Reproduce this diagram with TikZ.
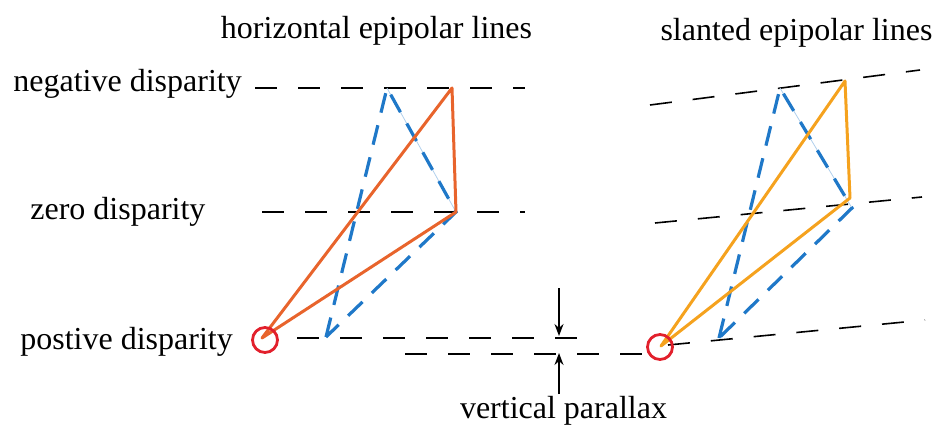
\documentclass[tikz,border=0pt]{standalone}
\usepackage{fontspec}
\setmainfont{Liberation Serif}
\usetikzlibrary{arrows.meta}
\definecolor{lorange}{HTML}{E8642C}
\definecolor{rorange}{HTML}{F5A21E}
\definecolor{epiblue}{HTML}{1F78C8}
\definecolor{camred}{HTML}{E2202C}
\tikzset{
  epiline/.style={black, line width=0.8pt, dash pattern=on 11pt off 10.5pt},
  rayblue/.style={epiblue, line width=1.6pt, dash pattern=on 10pt off 6.5pt},
  camera/.style={circle, draw=camred, line width=1.4pt, minimum size=12.5pt, inner sep=0pt},
  lbl/.style={font=\fontsize{16}{19}\selectfont, inner sep=0pt}
}
\begin{document}
\begin{tikzpicture}[>={Stealth[length=6pt,width=4.5pt]}, x=0.5pt, y=-0.5pt]
			\useasboundingbox (0,0) rectangle (933,428);

			% Titel
			\node[lbl, anchor=base] (thor) at (376.5,39) {horizontal epipolar lines};
			\node[lbl, anchor=base] (tsla) at (796.5,40) {slanted epipolar lines};
			\node[lbl, anchor=base west] (tneg) at (13,91) {negative disparity};
			\node[lbl, anchor=base west] (tzero) at (30,219) {zero disparity};
			\node[lbl, anchor=base west] (tpos) at (20,349) {postive disparity};
			\node[lbl, anchor=base] (tvp) at (563.5,418) {vertical parallax};

			% horizontale Epipolarlinien
			\draw[epiline] (255,88) -- (525,88);
			\draw[epiline] (262,212) -- (525,212);
			\draw[epiline] (297,338) -- (590,338);
			\draw[epiline] (405,354) -- (645,354);

			% schraege Epipolarlinien
			\draw[epiline] (650,105) -- (920,70);
			\draw[epiline] (655,223) -- (922,197);
			\draw[epiline] (668,345) -- (925,320);

			% Eckpunkte links
			\coordinate (lB) at (262,338);
			\coordinate (lT) at (452,88);
			\coordinate (lM) at (456,212);
			\coordinate (lbT) at (387,88);
			\coordinate (lbB) at (326,337);

			% Eckpunkte rechts
			\coordinate (rB) at (661,346);
			\coordinate (rT) at (845,81);
			\coordinate (rM) at (850,198);
			\coordinate (rbT) at (780,88);
			\coordinate (rbR) at (852,208);
			\coordinate (rbB) at (719,338);

			% blaue Dreiecke
			\draw[epiblue!35, line width=0.4pt] (lbT) -- (lM);
			\draw[rayblue] (lbB) -- (lbT) -- (lM) -- cycle;
			\draw[epiblue!35, line width=0.4pt] (rbT) -- (rbR);
			\draw[rayblue] (rbB) -- (rbT) -- (rbR) -- cycle;

			% orange Dreiecke
			\draw[lorange, line width=1.5pt, line join=round] (lB) -- (lT) -- (lM) -- cycle;
			\draw[rorange, line width=1.5pt, line join=round] (rB) -- (rT) -- (rM) -- cycle;

			% Kameras
			\node[camera] (camL) at (265,340) {};
			\node[camera] (camR) at (660,347) {};

			% vertikale Parallaxe
			\coordinate (aTop) at (559,288);
			\coordinate (aTopEnd) at (559,336);
			\coordinate (aBot) at (559,394);
			\coordinate (aBotEnd) at (559,353);
			\draw[->, line width=0.8pt] (aTop) -- (aTopEnd);
			\draw[->, line width=0.8pt] (aBot) -- (aBotEnd);
		\end{tikzpicture}
\end{document}
